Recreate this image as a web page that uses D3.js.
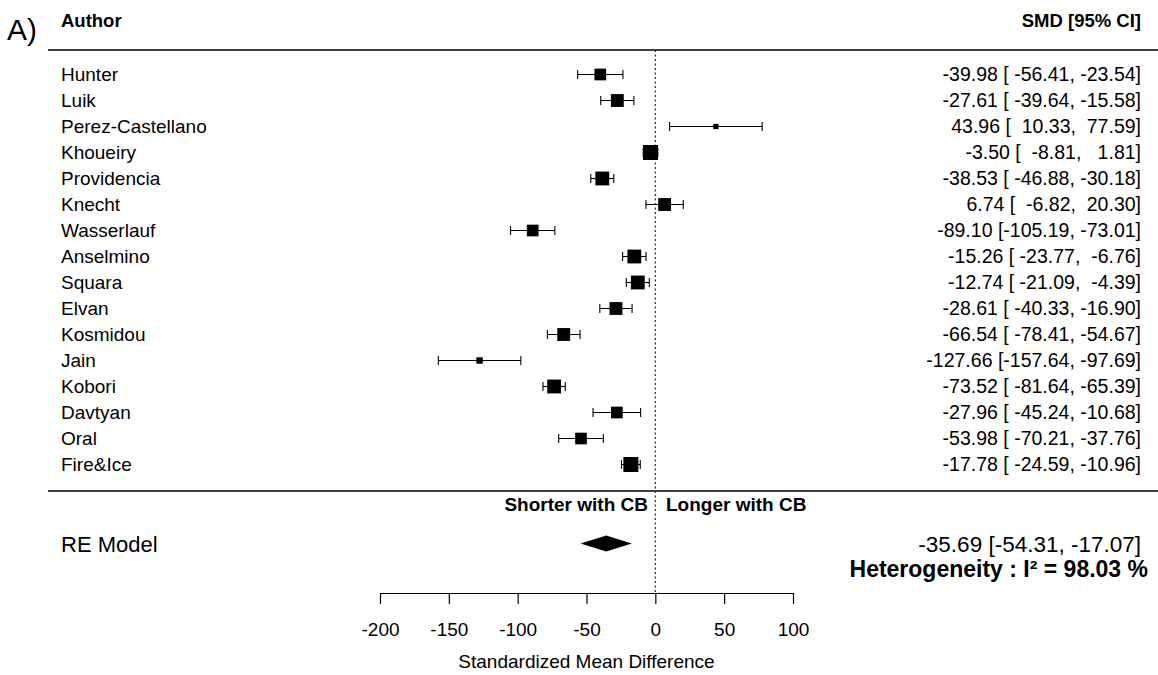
<!DOCTYPE html>
<html>
<head>
<meta charset="utf-8">
<script src="https://cdn.jsdelivr.net/npm/d3@7"></script>
<style>
  body { margin: 0; background: #fff; }
  svg text { font-family: "Liberation Sans", Arial, Helvetica, sans-serif; fill: #000; white-space: pre; }
</style>
</head>
<body>
<div id="forest-plot"></div>
<script>
// study estimates (SMD) with 95% CI and random-effects weights (%)
const authors = ["Hunter", "Luik", "Perez-Castellano", "Khoueiry", "Providencia", "Knecht", "Wasserlauf",
  "Anselmino", "Squara", "Elvan", "Kosmidou", "Jain", "Kobori", "Davtyan", "Oral", "Fire&Ice"];
const smd = [-39.98, -27.61, 43.96, -3.50, -38.53, 6.74, -89.10, -15.26, -12.74, -28.61, -66.54, -127.66, -73.52, -27.96, -53.98, -17.78];
const ciLower = [-56.41, -39.64, 10.33, -8.81, -46.88, -6.82, -105.19, -23.77, -21.09, -40.33, -78.41, -157.64, -81.64, -45.24, -70.21, -24.59];
const ciUpper = [-23.54, -15.58, 77.59, 1.81, -30.18, 20.30, -73.01, -6.76, -4.39, -16.90, -54.67, -97.69, -65.39, -10.68, -37.76, -10.96];
const weights = [6.0, 6.6, 2.7, 7.7, 7.1, 6.6, 6.0, 7.1, 7.1, 6.6, 6.6, 3.3, 7.1, 6.0, 6.0, 7.7];

// pooled random-effects model
const pooled = { est: -35.69, lower: -54.31, upper: -17.07 };
const heterogeneityI2 = 98.03;

const xTicks = [-200, -150, -100, -50, 0, 50, 100];
const xTitle = "Standardized Mean Difference";

const width = 1158, height = 675;
const font = 19;

const svg = d3.select("#forest-plot")
  .append("svg")
  .attr("width", width)
  .attr("height", height);

const x = d3.scaleLinear()
  .domain([-200, 100])
  .range([380, 793]);

const y = d3.scaleLinear()
  .domain([0, authors.length - 1])
  .range([74.5, 464.5]);

const boxSize = d3.scaleLinear()
  .domain([0, d3.max(weights)])
  .range([0, 15]);

// panel letter and column headers
svg.append("text")
  .attr("x", 7).attr("y", 40)
  .style("font-size", "30px")
  .text("A)");

svg.append("text")
  .attr("x", 61).attr("y", 27)
  .style("font-size", "18.5px").style("font-weight", "bold")
  .text("Author");

svg.append("text")
  .attr("x", 1141).attr("y", 27)
  .attr("text-anchor", "end")
  .style("font-size", "18.5px").style("font-weight", "bold")
  .text("SMD [95% CI]");

// horizontal rules
[50, 491].forEach(ly => {
  svg.append("line")
    .attr("x1", 48).attr("x2", width)
    .attr("y1", ly).attr("y2", ly)
    .attr("stroke", "#000")
    .attr("stroke-width", 1.3);
});

// reference line at zero
svg.append("line")
  .attr("x1", x(0)).attr("x2", x(0))
  .attr("y1", 50).attr("y2", 593)
  .attr("stroke", "#333")
  .attr("stroke-width", 1.3)
  .attr("stroke-dasharray", "2,2.5");

// plain hyphen for negatives, as in the printed table
const f2 = v => v.toFixed(2);
const padTo = (s, n) => " ".repeat(Math.max(0, n - s.length)) + s;
const wEst = d3.max(smd, v => f2(v).length);
const wLo = d3.max(ciLower, v => f2(v).length);
const wHi = d3.max(ciUpper, v => f2(v).length);

const rows = authors.map((a, i) => ({
  author: a, est: smd[i], lo: ciLower[i], hi: ciUpper[i], w: weights[i], i: i
}));

const row = svg.selectAll("g.study")
  .data(rows)
  .enter()
  .append("g")
  .attr("class", "study");

row.append("text")
  .attr("x", 61)
  .attr("y", d => y(d.i) + 6.8)
  .style("font-size", font + "px")
  .text(d => d.author);

row.append("text")
  .attr("x", 1141)
  .attr("y", d => y(d.i) + 6.8)
  .attr("text-anchor", "end")
  .style("font-size", "19.5px")
  .text(d => `${padTo(f2(d.est), wEst)} [${padTo(f2(d.lo), wLo)}, ${padTo(f2(d.hi), wHi)}]`);

// confidence interval whiskers
row.append("line")
  .attr("x1", d => x(d.lo)).attr("x2", d => x(d.hi))
  .attr("y1", d => y(d.i)).attr("y2", d => y(d.i))
  .attr("stroke", "#000").attr("stroke-width", 1.1);

["lo", "hi"].forEach(k => {
  row.append("line")
    .attr("x1", d => x(d[k])).attr("x2", d => x(d[k]))
    .attr("y1", d => y(d.i) - 4.5).attr("y2", d => y(d.i) + 4.5)
    .attr("stroke", "#000").attr("stroke-width", 1.1);
});

// weighted point estimates
row.append("rect")
  .attr("x", d => x(d.est) - boxSize(d.w) / 2)
  .attr("y", d => y(d.i) - boxSize(d.w) / 2)
  .attr("width", d => boxSize(d.w))
  .attr("height", d => boxSize(d.w))
  .attr("fill", "#000");

// direction labels
svg.append("text")
  .attr("x", 648).attr("y", 511)
  .attr("text-anchor", "end")
  .style("font-size", "19px").style("font-weight", "bold")
  .text("Shorter with CB");

svg.append("text")
  .attr("x", 666).attr("y", 511)
  .style("font-size", "19px").style("font-weight", "bold")
  .text("Longer with CB");

// summary row
const yRE = 543.5;
svg.append("text")
  .attr("x", 61).attr("y", yRE + 8)
  .style("font-size", "22px")
  .text("RE Model");

svg.append("path")
  .attr("d", `M${x(pooled.lower)},${yRE} L${x(pooled.est)},${yRE - 8} L${x(pooled.upper)},${yRE} L${x(pooled.est)},${yRE + 8} Z`)
  .attr("fill", "#000");

svg.append("text")
  .attr("x", 1141).attr("y", yRE + 8)
  .attr("text-anchor", "end")
  .style("font-size", "22.5px")
  .text(`${f2(pooled.est)} [${f2(pooled.lower)}, ${f2(pooled.upper)}]`);

svg.append("text")
  .attr("x", 1148).attr("y", 577)
  .attr("text-anchor", "end")
  .style("font-size", "23px").style("font-weight", "bold")
  .text(`Heterogeneity : I² = ${f2(heterogeneityI2)} %`);

// x axis
const axis = svg.append("g")
  .attr("transform", "translate(0,593)")
  .call(d3.axisBottom(x).tickValues(xTicks).tickSize(11).tickSizeOuter(0).tickPadding(19)
    .tickFormat(d => String(d)));
axis.select(".domain").attr("stroke", "#000").attr("stroke-width", 1.2);
axis.selectAll(".tick line").attr("stroke", "#000").attr("stroke-width", 1.2);
axis.selectAll(".tick text")
  .style("font-size", font + "px")
  .style("font-family", "\"Liberation Sans\", Arial, sans-serif");

svg.append("text")
  .attr("x", x(-50)).attr("y", 668)
  .attr("text-anchor", "middle")
  .style("font-size", "19px")
  .text(xTitle);
</script>
</body>
</html>
